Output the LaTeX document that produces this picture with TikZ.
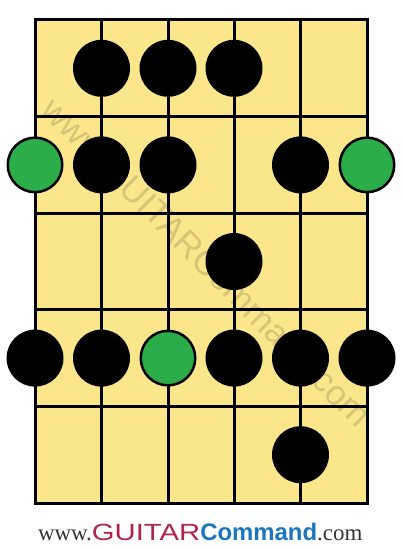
\documentclass[tikz,border=0pt]{standalone}
\usepackage{fontspec}
\setmainfont{Liberation Serif}
\newfontfamily\wsans{Liberation Sans}
\definecolor{board}{HTML}{FBE68B}
\definecolor{rootgreen}{HTML}{2BAE4A}
\definecolor{gcrimson}{HTML}{B2234F}
\definecolor{gblue}{HTML}{1B76BF}
\definecolor{wtext}{HTML}{333333}
\tikzset{
  gridline/.style={line width=3bp, black},
  note/.style={circle, fill=black, minimum size=57bp, inner sep=0pt},
  root/.style={circle, fill=rootgreen, draw=black, line width=2.5bp, minimum size=54.5bp, inner sep=0pt},
  logo/.style={inner sep=0pt, outer sep=0pt, anchor=base west},
}
\begin{document}
\begin{tikzpicture}[x=1bp,y=-1bp]
\useasboundingbox (0,0) rectangle (402,550);
% board
\fill[board] (35,20) rectangle (367,503);
% watermark
\node[rotate=-45, text=black, opacity=0.14, inner sep=0, font=\wsans\fontsize{35}{35}\selectfont] (wm) at (207,262) {www.GUITARCommand.com};
% grid
\foreach \x in {101.5,168,234,300.5} \draw[gridline] (\x,20) -- (\x,503);
\foreach \y in {116.6,213.2,309.8,406.4} \draw[gridline] (35,\y) -- (367,\y);
\draw[gridline] (35,20) rectangle (367,503);
% notes
\node[note] (n11) at (101.5,68.3) {};
\node[note] (n12) at (168,68.3) {};
\node[note] (n13) at (234,68.3) {};
\node[root] (n21) at (35,164.9) {};
\node[note] (n22) at (101.5,164.9) {};
\node[note] (n23) at (168,164.9) {};
\node[note] (n24) at (300.5,164.9) {};
\node[root] (n25) at (367,164.9) {};
\node[note] (n31) at (234,261.5) {};
\node[note] (n41) at (35,358.1) {};
\node[note] (n42) at (101.5,358.1) {};
\node[root] (n43) at (168,358.1) {};
\node[note] (n44) at (234,358.1) {};
\node[note] (n45) at (300.5,358.1) {};
\node[note] (n46) at (367,358.1) {};
\node[note] (n51) at (300.5,454.7) {};
% logo
\node[logo, text=wtext, font=\fontsize{23}{23}\selectfont] (www) at (38,540) {www.};
\node[logo, text=gcrimson, font=\wsans\fontsize{23.5}{23.5}\selectfont] (guitar) at (www.base east) {\scalebox{1.25}[1]{GUITAR}};
\node[logo, text=gblue, font=\wsans\bfseries\fontsize{24}{24}\selectfont] (command) at (guitar.base east) {Command};
\node[logo, text=wtext, font=\fontsize{23}{23}\selectfont] (com) at (command.base east) {.com};
\end{tikzpicture}
\end{document}
